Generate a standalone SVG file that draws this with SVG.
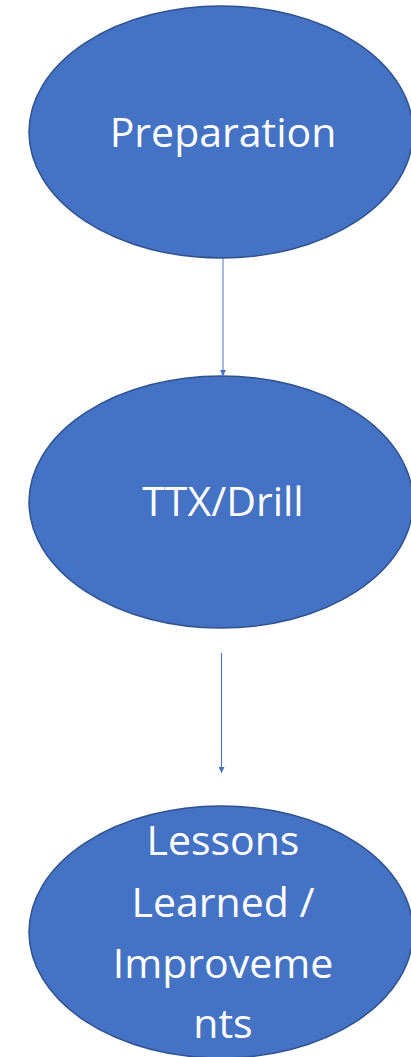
<svg xmlns="http://www.w3.org/2000/svg" width="411" height="1057" viewBox="0 0 411 1057">
<style>
.node{fill:#4472C4;stroke:#2F528F;stroke-width:1.5}
.lbl{font-family:"Open Sans","Noto Sans",sans-serif;font-size:41px;fill:#FFFFFF;text-anchor:middle}
.edge{stroke:#4472C4;stroke-width:1;fill:none}
</style>
<defs>
<marker id="arr" viewBox="0 0 10 10" refX="10" refY="5" markerWidth="6" markerHeight="6" orient="auto" markerUnits="userSpaceOnUse">
<path d="M0,0 L10,5 L0,10 z" fill="#4472C4"/>
</marker>
</defs>
<rect width="411" height="1057" fill="#FFFFFF"/>
<g id="node-preparation">
<ellipse class="node" cx="221" cy="132" rx="192" ry="126"/>
<text class="lbl" x="223" y="147">Preparation</text>
</g>
<g id="node-ttx">
<ellipse class="node" cx="221" cy="502" rx="192" ry="126"/>
<text class="lbl" x="223" y="516">TTX/Drill</text>
</g>
<g id="node-lessons">
<ellipse class="node" cx="221" cy="932" rx="192" ry="126"/>
<text class="lbl" x="223" y="855">Lessons</text>
<text class="lbl" x="223" y="917">Learned /</text>
<text class="lbl" x="223" y="978">Improveme</text>
<text class="lbl" x="223" y="1038">nts</text>
</g>
<g id="connectors">
<line class="edge" x1="223" y1="258" x2="223" y2="376" marker-end="url(#arr)"/>
<line class="edge" x1="221.5" y1="653" x2="221.5" y2="773" marker-end="url(#arr)"/>
</g>
</svg>
